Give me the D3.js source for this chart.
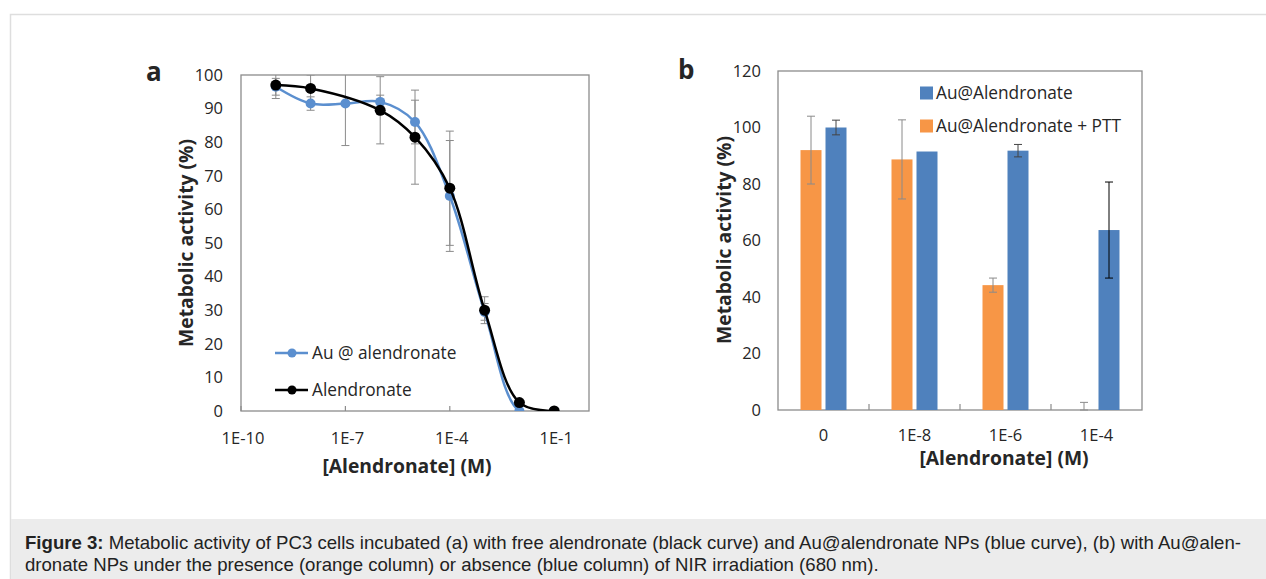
<!DOCTYPE html>
<html>
<head>
<meta charset="utf-8">
<script src="https://cdn.jsdelivr.net/npm/d3@7"></script>
<style>
  body { margin: 0; background: #fff; }
  svg { display: block; }
  .chart-text { font-family: "Open Sans", Lato, sans-serif; fill: #262626; }
</style>
</head>
<body>
<div id="chart"></div>
<script>
// ---- panel a data ----
const concA = [1e-9, 1e-8, 1e-7, 1e-6, 1e-5, 1e-4, 1e-3, 1e-2, 1e-1];
const auValues = [96.5, 91.5, 91.5, 92, 86, 64, 29.5, 0, 0];
const auErrors = [2.5, 2, 12.5, 2, 6.5, 16.5, 2.5, 0, 0];
const alnConc = [1e-9, 1e-8, 1e-6, 1e-5, 1e-4, 1e-3, 1e-2, 1e-1];
const alnValues = [97, 96, 89.5, 81.5, 66.3, 30, 2.5, 0];
const alnErrors = [4, 4, 10, 14, 17, 4, 0, 0];
const xTicksA = [1e-10, 1e-7, 1e-4, 1e-1];
const xTickLabelsA = ["1E-10", "1E-7", "1E-4", "1E-1"];

// ---- panel b data ----
const categoriesB = ["0", "1E-8", "1E-6", "1E-4"];
const pttValues = [92, 88.7, 44.2, 0];
const pttErrors = [12, 14, 2.5, 2.7];
const auBarValues = [100, 91.5, 91.8, 63.7];
const auBarErrors = [2.6, 0, 2.2, 17];

const width = 1266, height = 579;
const svg = d3.select("#chart").append("svg")
    .attr("width", width)
    .attr("height", height);

// outer frame + caption box
svg.append("rect")
    .attr("x", 10.5).attr("y", 14.5)
    .attr("width", width).attr("height", height)
    .attr("fill", "none").attr("stroke", "#dedede").attr("stroke-width", 1.5);
svg.append("rect")
    .attr("x", 11).attr("y", 519)
    .attr("width", width).attr("height", 60)
    .attr("fill", "#ececec");

const caption = svg.append("text")
    .attr("font-family", "'Liberation Sans', Arial, sans-serif")
    .attr("font-size", 18.6)
    .attr("fill", "#222");
const line1 = caption.append("tspan").attr("x", 25).attr("y", 549);
line1.append("tspan").attr("font-weight", "bold").text("Figure 3:");
line1.append("tspan").text(" Metabolic activity of PC3 cells incubated (a) with free alendronate (black curve) and Au@alendronate NPs (blue curve), (b) with Au@alen-");
caption.append("tspan").attr("x", 25).attr("y", 571)
    .text("dronate NPs under the presence (orange column) or absence (blue column) of NIR irradiation (680 nm).");

const axisGray = "#8c8c8c";
const blue = "#4F81BD", blueLine = "#5B8FCF", orange = "#F79646";

// ================= panel a =================
const xA = d3.scaleLog().domain([1e-10, 1]).range([241, 589]);
const yA = d3.scaleLinear().domain([0, 100]).range([411, 75]);

const gA = svg.append("g");

gA.append("defs").append("clipPath").attr("id", "clipA")
    .append("rect").attr("x", 241).attr("y", 75).attr("width", 348).attr("height", 336);

gA.append("rect")
    .attr("x", 241).attr("y", 75).attr("width", 348).attr("height", 336)
    .attr("fill", "none").attr("stroke", axisGray).attr("stroke-width", 1.3);

gA.append("text").attr("class", "chart-text")
    .attr("x", 146).attr("y", 81)
    .attr("font-size", 26).attr("font-weight", "bold")
    .text("a");

// y tick labels
gA.selectAll(".ytick").data(d3.range(0, 101, 10)).join("text")
    .attr("class", "chart-text")
    .attr("x", 223).attr("y", d => yA(d))
    .attr("dy", "0.35em").attr("text-anchor", "end")
    .attr("font-size", 16.5)
    .text(d => d);

// x ticks (inside) + labels
gA.selectAll(".xtick").data(xTicksA).join("line")
    .attr("x1", d => xA(d)).attr("x2", d => xA(d))
    .attr("y1", 411).attr("y2", 406)
    .attr("stroke", axisGray).attr("stroke-width", 1.2);
gA.selectAll(".xlabel").data(xTicksA).join("text")
    .attr("class", "chart-text")
    .attr("x", d => xA(d) + 2).attr("y", 444)
    .attr("text-anchor", "middle").attr("font-size", 16.5)
    .text((d, i) => xTickLabelsA[i]);

gA.append("text").attr("class", "chart-text")
    .attr("x", 407).attr("y", 473)
    .attr("text-anchor", "middle").attr("font-size", 19.3).attr("font-weight", "bold")
    .text("[Alendronate] (M)");
gA.append("text").attr("class", "chart-text")
    .attr("transform", "translate(193,243) rotate(-90)")
    .attr("text-anchor", "middle").attr("font-size", 19.3).attr("font-weight", "bold")
    .text("Metabolic activity (%)");

const plotA = gA.append("g").attr("clip-path", "url(#clipA)");

function errorBars(g, xs, vals, errs, color) {
    const d = xs.map((x, i) => ({ x, v: vals[i], e: errs[i] })).filter(p => p.e > 0);
    g.selectAll(null).data(d).join("path")
        .attr("d", p => {
            const x = xA(p.x), y1 = yA(p.v - p.e), y2 = yA(p.v + p.e);
            return `M${x},${y1}V${y2}M${x - 4},${y1}H${x + 4}M${x - 4},${y2}H${x + 4}`;
        })
        .attr("fill", "none").attr("stroke", color).attr("stroke-width", 1);
}
errorBars(plotA, concA, auValues, auErrors, "#8a8a8a");
errorBars(plotA, alnConc, alnValues, alnErrors, "#8a8a8a");

const lineA = d3.line().curve(d3.curveCatmullRom.alpha(0.5))
    .x(d => xA(d[0])).y(d => yA(d[1]));

const auPts = concA.map((c, i) => [c, auValues[i]]);
const alnPts = alnConc.map((c, i) => [c, alnValues[i]]);

plotA.append("path").attr("d", lineA(auPts))
    .attr("fill", "none").attr("stroke", blueLine).attr("stroke-width", 2.5);
plotA.selectAll(".auDot").data(auPts).join("circle")
    .attr("cx", d => xA(d[0])).attr("cy", d => yA(d[1])).attr("r", 5)
    .attr("fill", blueLine);
plotA.append("path").attr("d", lineA(alnPts))
    .attr("fill", "none").attr("stroke", "#000").attr("stroke-width", 2.5);
plotA.selectAll(".alnDot").data(alnPts).join("circle")
    .attr("cx", d => xA(d[0])).attr("cy", d => yA(d[1])).attr("r", 5.5)
    .attr("fill", "#000");

// legend a
const legA = gA.append("g");
[["Au @ alendronate", blueLine, 353], ["Alendronate", "#000", 390]].forEach(([label, col, y]) => {
    legA.append("line").attr("x1", 275).attr("x2", 308).attr("y1", y).attr("y2", y)
        .attr("stroke", col).attr("stroke-width", 2.5);
    legA.append("circle").attr("cx", 292).attr("cy", y).attr("r", 4.5).attr("fill", col);
    legA.append("text").attr("class", "chart-text")
        .attr("x", 312).attr("y", y).attr("dy", "0.35em")
        .attr("font-size", 17.3).text(label);
});

// ================= panel b =================
const xB = d3.scaleBand().domain(categoriesB).range([778, 1142]);
const yB = d3.scaleLinear().domain([0, 120]).range([410, 71]);
const gB = svg.append("g");

gB.append("rect")
    .attr("x", 778).attr("y", 71).attr("width", 364).attr("height", 339)
    .attr("fill", "none").attr("stroke", axisGray).attr("stroke-width", 1.3);

gB.append("text").attr("class", "chart-text")
    .attr("x", 678).attr("y", 79)
    .attr("font-size", 26).attr("font-weight", "bold")
    .text("b");

gB.selectAll(".ytick").data(d3.range(0, 121, 20)).join("text")
    .attr("class", "chart-text")
    .attr("x", 761).attr("y", d => yB(d))
    .attr("dy", "0.35em").attr("text-anchor", "end")
    .attr("font-size", 16.5)
    .text(d => d);

gB.selectAll(".xtick").data(categoriesB.slice(1)).join("line")
    .attr("x1", d => xB(d)).attr("x2", d => xB(d))
    .attr("y1", 410).attr("y2", 404)
    .attr("stroke", axisGray).attr("stroke-width", 1.2);
gB.selectAll(".xlabel").data(categoriesB).join("text")
    .attr("class", "chart-text")
    .attr("x", d => xB(d) + xB.bandwidth() / 2).attr("y", 441)
    .attr("text-anchor", "middle").attr("font-size", 16.5)
    .text(d => d);

gB.append("text").attr("class", "chart-text")
    .attr("x", 1004).attr("y", 465)
    .attr("text-anchor", "middle").attr("font-size", 19.3).attr("font-weight", "bold")
    .text("[Alendronate] (M)");
gB.append("text").attr("class", "chart-text")
    .attr("transform", "translate(731,240) rotate(-90)")
    .attr("text-anchor", "middle").attr("font-size", 19.3).attr("font-weight", "bold")
    .text("Metabolic activity (%)");

const xSub = d3.scaleBand().domain(["ptt", "au"])
    .range([xB.bandwidth() / 2 - 23, xB.bandwidth() / 2 + 23]).paddingInner(0.16);

const barData = categoriesB.flatMap((c, i) => [
    { cat: c, key: "ptt", v: pttValues[i], e: pttErrors[i], fill: orange, ec: "#8a8a8a" },
    { cat: c, key: "au", v: auBarValues[i], e: auBarErrors[i], fill: blue, ec: i === 3 ? "#000" : "#444" }
]);

gB.selectAll(".bar").data(barData).join("rect")
    .attr("x", d => xB(d.cat) + xSub(d.key))
    .attr("y", d => yB(d.v))
    .attr("width", xSub.bandwidth())
    .attr("height", d => yB(0) - yB(d.v))
    .attr("fill", d => d.fill);

gB.selectAll(".err").data(barData.filter(d => d.e > 0)).join("path")
    .attr("d", d => {
        const x = xB(d.cat) + xSub(d.key) + xSub.bandwidth() / 2;
        const y1 = yB(Math.max(0, d.v - d.e)), y2 = yB(d.v + d.e);
        return `M${x},${y1}V${y2}M${x - 4},${y1}H${x + 4}M${x - 4},${y2}H${x + 4}`;
    })
    .attr("fill", "none").attr("stroke", d => d.ec).attr("stroke-width", 1);

// legend b
[["Au@Alendronate", blue, 93], ["Au@Alendronate + PTT", orange, 126]].forEach(([label, col, y]) => {
    gB.append("rect").attr("x", 920).attr("y", y - 6.5).attr("width", 13).attr("height", 13).attr("fill", col);
    gB.append("text").attr("class", "chart-text")
        .attr("x", 936).attr("y", y).attr("dy", "0.35em")
        .attr("font-size", 17.3).text(label);
});
</script>
</body>
</html>
